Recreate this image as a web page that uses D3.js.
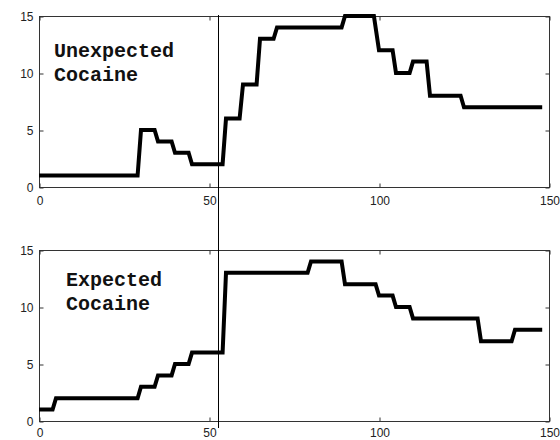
<!DOCTYPE html>
<html>
<head>
<meta charset="utf-8">
<script src="https://cdn.jsdelivr.net/npm/d3@7"></script>
<style>
  body { margin: 0; background: #fff; }
  .tick text { font-family: "Liberation Sans", Arial, sans-serif; font-size: 12px; fill: #222; }
  .tick line { stroke: #333; }
  .label { font-family: "Liberation Mono", "Courier New", monospace; font-weight: bold; font-size: 20px; fill: #111; }
</style>
</head>
<body>
<div id="chart"></div>
<script>
// session time (breakpoints) and number of responses
const unexpectedT = [0, 29, 30, 34, 35, 39, 40, 44, 45, 54, 55, 59, 60, 64, 65, 69, 70, 89, 90, 98.5, 100, 104, 105, 109, 110, 114, 115, 124, 125, 148];
const unexpectedV = [1, 1, 5, 5, 4, 4, 3, 3, 2, 2, 6, 6, 9, 9, 13, 13, 14, 14, 15, 15, 12, 12, 10, 10, 11, 11, 8, 8, 7, 7];

const expectedT = [0, 4, 5, 29, 30, 34, 35, 39, 40, 44, 45, 54, 55, 79, 80, 89, 90, 99, 100, 104, 105, 109, 110, 129, 130, 139, 140, 148];
const expectedV = [1, 1, 2, 2, 3, 3, 4, 4, 5, 5, 6, 6, 13, 13, 14, 14, 12, 12, 11, 11, 10, 10, 9, 9, 7, 7, 8, 8];

const xTicks = [0, 50, 100, 150];
const yTicks = [0, 5, 10, 15];
const markerT = 52.6;  // vertical line through both panels

const width = 560, height = 440;

const svg = d3.select("#chart").append("svg")
  .attr("width", width)
  .attr("height", height);

const x = d3.scaleLinear().domain([0, 150]).range([39, 549]);

const panels = [
  { t: unexpectedT, v: unexpectedV, top: 16, bottom: 187, pad: 9, lines: ["Unexpected", "Cocaine"], lx: 54, ly: 57 },
  { t: expectedT, v: expectedV, top: 250, bottom: 421, pad: 7, lines: ["Expected", "Cocaine"], lx: 66, ly: 286 }
];

panels.forEach(function(p) {
  const y = d3.scaleLinear().domain([0, 15]).range([p.bottom, p.top]);
  const g = svg.append("g");

  // box
  g.append("rect")
    .attr("x", x(0) + 0.5).attr("y", p.top + 0.5)
    .attr("width", x(150) - x(0)).attr("height", p.bottom - p.top)
    .attr("fill", "none").attr("stroke", "#333");

  // inward ticks on all four sides, labels only bottom/left
  g.append("g").attr("transform", `translate(0.5,${p.bottom + 0.5})`)
    .call(d3.axisBottom(x).tickValues(xTicks).tickSizeInner(-4).tickSizeOuter(0).tickPadding(p.pad))
    .call(s => s.select(".domain").remove());
  g.append("g").attr("transform", `translate(0.5,${p.top + 0.5})`)
    .call(d3.axisTop(x).tickValues(xTicks).tickSizeInner(-4).tickSizeOuter(0).tickFormat(""))
    .call(s => s.select(".domain").remove());
  g.append("g").attr("transform", `translate(${x(0) + 0.5},0.5)`)
    .call(d3.axisLeft(y).tickValues(yTicks).tickSizeInner(-4).tickSizeOuter(0).tickPadding(6))
    .call(s => s.select(".domain").remove());
  g.append("g").attr("transform", `translate(${x(150) + 0.5},0.5)`)
    .call(d3.axisRight(y).tickValues(yTicks).tickSizeInner(-4).tickSizeOuter(0).tickFormat(""))
    .call(s => s.select(".domain").remove());

  const line = d3.line()
    .x((d, i) => x(p.t[i]))
    .y(d => y(d));

  g.append("path")
    .datum(p.v)
    .attr("d", line)
    .attr("fill", "none")
    .attr("stroke", "#000")
    .attr("stroke-width", 4)
    .attr("stroke-linejoin", "miter");

  g.selectAll("text.label")
    .data(p.lines)
    .enter().append("text")
    .attr("class", "label")
    .attr("x", p.lx)
    .attr("y", (d, i) => p.ly + i * 24)
    .text(d => d);
});

// the marker line crossing both panels
svg.append("line")
  .attr("x1", Math.round(x(markerT)) + 0.5).attr("x2", Math.round(x(markerT)) + 0.5)
  .attr("y1", 15).attr("y2", 428)
  .attr("stroke", "#000").attr("stroke-width", 1);
</script>
</body>
</html>
